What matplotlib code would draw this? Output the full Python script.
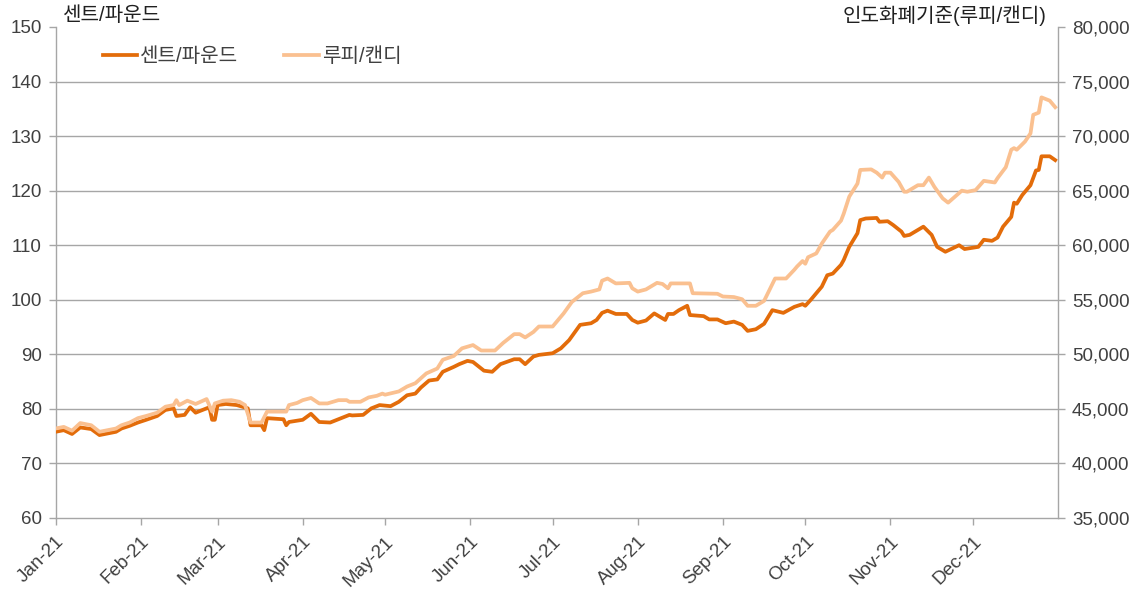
import matplotlib
matplotlib.use("Agg")
import matplotlib.pyplot as plt
import matplotlib.dates as mdates
import matplotlib.ticker as mticker
import pandas as pd

# ---------------- data ----------------
cents_dates = [
    "2021-01-01", "2021-01-04", "2021-01-07", "2021-01-10", "2021-01-14", "2021-01-17", "2021-01-20",
    "2021-01-23", "2021-01-25", "2021-01-28", "2021-01-31", "2021-02-03", "2021-02-07", "2021-02-10",
    "2021-02-13", "2021-02-14", "2021-02-17", "2021-02-19", "2021-02-21", "2021-02-24", "2021-02-26",
    "2021-02-27", "2021-02-28", "2021-03-01", "2021-03-04", "2021-03-08", "2021-03-12", "2021-03-13",
    "2021-03-17", "2021-03-18", "2021-03-19", "2021-03-25", "2021-03-26", "2021-03-27", "2021-04-01",
    "2021-04-04", "2021-04-07", "2021-04-11", "2021-04-15", "2021-04-18", "2021-04-19", "2021-04-23",
    "2021-04-26", "2021-04-29", "2021-05-03", "2021-05-06", "2021-05-09", "2021-05-12", "2021-05-14",
    "2021-05-17", "2021-05-20", "2021-05-22", "2021-05-26", "2021-05-28", "2021-05-31", "2021-06-02",
    "2021-06-06", "2021-06-09", "2021-06-12", "2021-06-17", "2021-06-19", "2021-06-21", "2021-06-24",
    "2021-06-26", "2021-07-01", "2021-07-04", "2021-07-07", "2021-07-11", "2021-07-15", "2021-07-17",
    "2021-07-19", "2021-07-21", "2021-07-24", "2021-07-28", "2021-07-30", "2021-08-01", "2021-08-04",
    "2021-08-07", "2021-08-09", "2021-08-11", "2021-08-12", "2021-08-14", "2021-08-16", "2021-08-19",
    "2021-08-20", "2021-08-25", "2021-08-27", "2021-08-30", "2021-09-02", "2021-09-05", "2021-09-08",
    "2021-09-10", "2021-09-13", "2021-09-16", "2021-09-19", "2021-09-23", "2021-09-27", "2021-09-30",
    "2021-10-01", "2021-10-03", "2021-10-07", "2021-10-09", "2021-10-11", "2021-10-14", "2021-10-15",
    "2021-10-17", "2021-10-20", "2021-10-21", "2021-10-23", "2021-10-27", "2021-10-28", "2021-10-31",
    "2021-11-02", "2021-11-05", "2021-11-06", "2021-11-08", "2021-11-10", "2021-11-13", "2021-11-16",
    "2021-11-18", "2021-11-21", "2021-11-26", "2021-11-28", "2021-12-03", "2021-12-05", "2021-12-08",
    "2021-12-10", "2021-12-12", "2021-12-15", "2021-12-16", "2021-12-17", "2021-12-19", "2021-12-22",
    "2021-12-24", "2021-12-25", "2021-12-26", "2021-12-29", "2021-12-31",
]
cents_per_pound = [
    75.8, 76.1, 75.4, 76.6, 76.3, 75.2, 75.5,
    75.8, 76.4, 76.9, 77.5, 78.0, 78.7, 79.8,
    80.1, 78.7, 78.9, 80.3, 79.3, 79.9, 80.3,
    78.0, 78.0, 80.7, 80.9, 80.7, 80.1, 77.0,
    77.0, 76.1, 78.3, 78.1, 77.0, 77.6, 78.0,
    79.1, 77.6, 77.5, 78.3, 78.9, 78.8, 78.9,
    80.1, 80.7, 80.5, 81.3, 82.5, 82.8, 83.9,
    85.2, 85.4, 86.8, 87.7, 88.2, 88.8, 88.6,
    87.0, 86.8, 88.2, 89.1, 89.1, 88.2, 89.6,
    89.9, 90.2, 91.1, 92.6, 95.4, 95.7, 96.3,
    97.6, 98.0, 97.4, 97.4, 96.3, 95.8, 96.2,
    97.5, 96.9, 96.3, 97.4, 97.4, 98.1, 98.9,
    97.2, 97.0, 96.4, 96.4, 95.7, 96.0, 95.4,
    94.3, 94.6, 95.6, 98.1, 97.6, 98.7, 99.2,
    98.9, 100.0, 102.4, 104.5, 104.8, 106.4, 107.3,
    109.7, 112.2, 114.6, 114.9, 115.0, 114.3, 114.4,
    113.7, 112.5, 111.7, 111.9, 112.5, 113.4, 111.9,
    109.7, 108.8, 110.0, 109.3, 109.7, 111.0, 110.8,
    111.4, 113.4, 115.2, 117.8, 117.6, 119.2, 121.0,
    123.7, 123.8, 126.3, 126.3, 125.6,
]

rupee_dates = [
    "2021-01-01", "2021-01-04", "2021-01-07", "2021-01-10", "2021-01-14", "2021-01-17", "2021-01-20",
    "2021-01-23", "2021-01-25", "2021-01-28", "2021-01-31", "2021-02-03", "2021-02-07", "2021-02-10",
    "2021-02-13", "2021-02-14", "2021-02-15", "2021-02-18", "2021-02-21", "2021-02-25", "2021-02-27",
    "2021-02-28", "2021-03-03", "2021-03-06", "2021-03-09", "2021-03-11", "2021-03-13", "2021-03-17",
    "2021-03-19", "2021-03-26", "2021-03-27", "2021-03-30", "2021-04-01", "2021-04-04", "2021-04-07",
    "2021-04-10", "2021-04-14", "2021-04-17", "2021-04-18", "2021-04-22", "2021-04-25", "2021-04-28",
    "2021-04-30", "2021-05-01", "2021-05-06", "2021-05-09", "2021-05-12", "2021-05-16", "2021-05-20",
    "2021-05-22", "2021-05-26", "2021-05-29", "2021-06-02", "2021-06-05", "2021-06-10", "2021-06-13",
    "2021-06-17", "2021-06-19", "2021-06-21", "2021-06-24", "2021-06-26", "2021-07-01", "2021-07-05",
    "2021-07-08", "2021-07-12", "2021-07-15", "2021-07-18", "2021-07-19", "2021-07-21", "2021-07-24",
    "2021-07-29", "2021-07-30", "2021-08-01", "2021-08-04", "2021-08-08", "2021-08-10", "2021-08-12",
    "2021-08-13", "2021-08-20", "2021-08-21", "2021-08-30", "2021-09-01", "2021-09-05", "2021-09-08",
    "2021-09-10", "2021-09-13", "2021-09-16", "2021-09-20", "2021-09-24", "2021-09-27", "2021-09-28",
    "2021-09-30", "2021-10-01", "2021-10-02", "2021-10-05", "2021-10-07", "2021-10-10", "2021-10-11",
    "2021-10-14", "2021-10-15", "2021-10-17", "2021-10-20", "2021-10-21", "2021-10-25", "2021-10-27",
    "2021-10-29", "2021-10-30", "2021-11-01", "2021-11-04", "2021-11-06", "2021-11-07", "2021-11-11",
    "2021-11-13", "2021-11-15", "2021-11-17", "2021-11-20", "2021-11-22", "2021-11-27", "2021-11-29",
    "2021-12-02", "2021-12-05", "2021-12-09", "2021-12-10", "2021-12-13", "2021-12-15", "2021-12-16",
    "2021-12-17", "2021-12-20", "2021-12-22", "2021-12-23", "2021-12-25", "2021-12-26", "2021-12-29",
    "2021-12-31",
]
rupees_per_kg = [
    43200, 43350, 43000, 43700, 43500, 42900, 43050,
    43200, 43500, 43750, 44150, 44350, 44650, 45200,
    45350, 45800, 45350, 45750, 45450, 45900, 44750,
    45500, 45750, 45800, 45650, 45350, 43750, 43750,
    44750, 44750, 45350, 45550, 45800, 46000, 45500,
    45500, 45800, 45800, 45650, 45650, 46050, 46200,
    46400, 46300, 46600, 47050, 47350, 48250, 48700,
    49500, 49850, 50550, 50850, 50350, 50350, 51050,
    51850, 51850, 51550, 52050, 52550, 52550, 53750,
    54800, 55600, 55750, 55950, 56750, 56950, 56500,
    56550, 56050, 55750, 55950, 56550, 56450, 56050,
    56500, 56500, 55600, 55550, 55300, 55250, 55050,
    54450, 54450, 54900, 56950, 56950, 57750, 58050,
    58550, 58300, 58900, 59250, 60150, 61250, 61400,
    62250, 62900, 64450, 65650, 66900, 66950, 66650,
    66200, 66650, 66650, 65800, 64900, 64900, 65500,
    65500, 66200, 65350, 64300, 63900, 65000, 64900,
    65050, 65900, 65750, 66150, 67150, 68750, 68900,
    68750, 69500, 70250, 71950, 72150, 73550, 73250,
    72650,
]

month_ticks = ["2021-01-01", "2021-02-01", "2021-03-01", "2021-04-01", "2021-05-01", "2021-06-01",
               "2021-07-01", "2021-08-01", "2021-09-01", "2021-10-01", "2021-11-01", "2021-12-01"]
left_ticks = [60, 70, 80, 90, 100, 110, 120, 130, 140, 150]
right_ticks = [35000, 40000, 45000, 50000, 55000, 60000, 65000, 70000, 75000, 80000]
series_names = ["센트/파운드", "루피/캔디"]
left_title = "센트/파운드"
right_title = "인도화폐기준(루피/캔디)"

# ---------------- styling ----------------
DARK = "#E36C0A"
LIGHT = "#FAC090"
GRID = "#A6A6A6"
TXT = "#404040"
FONT = ["Liberation Sans", "Noto Sans CJK KR", "DejaVu Sans"]
plt.rcParams["font.family"] = FONT

fig = plt.figure(figsize=(11.43, 5.92), dpi=100)
ax = fig.add_axes([0.0486, 0.125, 0.8770, 0.8294])
ax2 = ax.twinx()

d1 = pd.to_datetime(cents_dates)
d2 = pd.to_datetime(rupee_dates)

l1, = ax.plot(d1, cents_per_pound, color=DARK, lw=2.7, solid_joinstyle="round", zorder=3,
              label=series_names[0])
l2, = ax2.plot(d2, rupees_per_kg, color=LIGHT, lw=2.7, solid_joinstyle="round", zorder=2,
               label=series_names[1])

ax.set_ylim(60, 150)
ax2.set_ylim(35000, 80000)
ax.set_yticks(left_ticks)
ax2.set_yticks(right_ticks)
ax2.yaxis.set_major_formatter(mticker.FuncFormatter(lambda v, p: f"{int(v):,}"))

ax.set_xlim(pd.Timestamp("2021-01-01"), pd.Timestamp("2022-01-01"))
ax.set_xticks(pd.to_datetime(month_ticks))
ax.xaxis.set_major_formatter(mdates.DateFormatter("%b-%y"))

ax.yaxis.grid(True, color=GRID, lw=1.0)
ax.set_axisbelow(True)
gls = ax.get_ygridlines()
gls[-1].set_visible(False)
gls[0].set_visible(False)

for a in (ax, ax2):
    a.spines["top"].set_visible(False)
    for s in ("left", "right", "bottom"):
        a.spines[s].set_color(GRID)
        a.spines[s].set_linewidth(1.0)
    a.tick_params(colors=GRID, labelcolor=TXT, labelsize=13.5, length=5, width=1.0,
                  direction="out", pad=5)
ax.spines["right"].set_visible(False)
ax2.spines["left"].set_visible(False)
ax2.spines["bottom"].set_visible(False)

for lab in ax.get_xticklabels():
    lab.set_rotation(45)
    lab.set_ha("right")
    lab.set_rotation_mode("anchor")
ax.tick_params(axis="x", pad=6)

fig.text(0.055, 0.974, left_title, ha="left", va="center", fontsize=14.5, color="#202020",
         family=FONT)
fig.text(0.916, 0.974, right_title, ha="right", va="center", fontsize=14.5, color="#202020",
         family=FONT)

leg = ax.legend(handles=[l1, l2], loc="center left", bbox_to_anchor=(0.047, 0.939), ncol=2,
                frameon=False, borderpad=0, borderaxespad=0, handlelength=1.7, handletextpad=0.15,
                columnspacing=2.3, fontsize=14.5)
for t in leg.get_texts():
    t.set_color(TXT)

fig.savefig("out.png", dpi=100)
